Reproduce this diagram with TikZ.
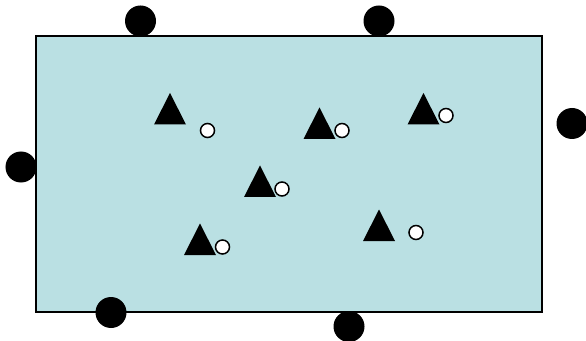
\documentclass[tikz,border=0pt]{standalone}
\usepackage{tikz}
\usetikzlibrary{positioning}
\definecolor{FieldCyan}{HTML}{BAE0E3}

\begin{document}
\begin{tikzpicture}[
  x=0.03cm, y=-0.03cm,
  field/.style={draw=black,line width=0.06cm,fill=FieldCyan},
  anchorpt/.style={circle,fill=black,inner sep=0pt,minimum size=0.93cm},
  probe/.style={circle,draw=black,fill=white,line width=0.045cm,inner sep=0pt,minimum size=0.42cm},
  site/.style={fill=black},
]
\useasboundingbox (0,0) rectangle (586,341);
% field
\draw[field] (36,36) rectangle (542,312);

% outer dots
\node[anchorpt] (a1) at (140.5,21) {};
\node[anchorpt] (a2) at (379,21) {};
\node[anchorpt] (a3) at (572,123.5) {};
\node[anchorpt] (a4) at (21,167) {};
\node[anchorpt] (a5) at (111,312.5) {};
\node[anchorpt] (a6) at (349,326.5) {};

% triangles (base midpoints)
\coordinate (t1) at (170,124.5);
\coordinate (t2) at (319.5,139);
\coordinate (t3) at (423.5,124.5);
\coordinate (t4) at (260,197);
\coordinate (t5) at (200,255);
\coordinate (t6) at (379,241);
\foreach \t in {t1,t2,t3,t4,t5,t6}
  \fill[site] (\t) ++(-16,0) -- ++(32,0) -- ++(-16,-31.5) -- cycle;

% small circles
\node[probe] (p1) at (207.5,130.5) {};
\node[probe] (p2) at (342,130.5) {};
\node[probe] (p3) at (446,115.5) {};
\node[probe] (p4) at (282,189) {};
\node[probe] (p5) at (222.5,247) {};
\node[probe] (p6) at (416,232.5) {};
\end{tikzpicture}
\end{document}
